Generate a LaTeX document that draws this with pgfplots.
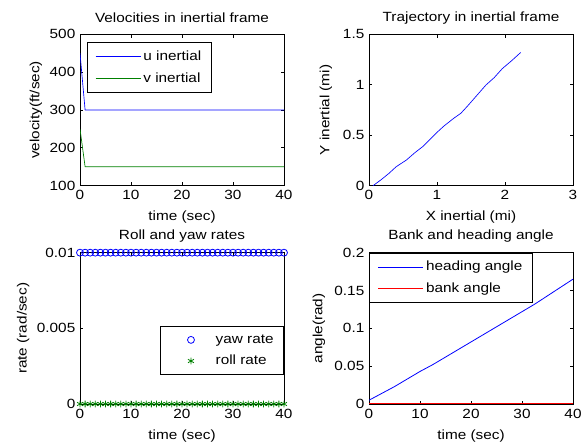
\documentclass[border=0pt]{standalone}
\usepackage{fontspec}
\setmainfont{Liberation Sans}[FakeStretch=1.15]
\usepackage{pgfplots}
\pgfplotsset{compat=1.18}

\definecolor{mblue}{rgb}{0,0,1}
\definecolor{mgreen}{rgb}{0,0.5,0}
\definecolor{mred}{rgb}{1,0,0}

\pgfplotsset{
  mlab/.style={
    scale only axis, width=153pt, height=113.5pt,
    anchor=south west,
    axis line style={black, line width=0.6pt},
    tick align=inside, major tick length=2.5pt,
    every tick/.style={black, line width=0.6pt},
    font=\fontsize{10}{12}\selectfont,
    ticklabel style={font=\fontsize{10}{12}\selectfont},
    /pgf/number format/assume math mode=true,
    scaled y ticks=false, scaled x ticks=false,
    every axis title shift=0pt,
    title style={at={(axis description cs:0.5,1.11)}, anchor=center, inner sep=0pt, yshift=0pt},
    xlabel style={at={(axis description cs:0.5,-0.21)}, anchor=center, inner sep=0pt},
    legend cell align=left,
    legend style={draw=black, line width=0.6pt, font=\fontsize{10}{12}\selectfont,
      inner xsep=6pt, inner ysep=4.5pt, row sep=4.5pt,
      nodes={inner sep=1.5pt}},
    legend image code/.code={\draw[mark repeat=2, mark phase=2, #1]
      plot coordinates {(0pt,0pt) (17pt,0pt) (34pt,0pt)};},
    every axis plot/.append style={line width=0.5pt},
  },
  markimg/.style={legend image code/.code={\path[draw=none, fill=none] (0pt,-2pt) rectangle (34pt,2pt);
      \draw[#1] plot coordinates {(17pt,0pt)};}},
}

\begin{document}
\begin{tikzpicture}
\path[use as bounding box] (0,0) rectangle (438.75pt,332.25pt);

% velocities
\begin{axis}[mlab, at={(60pt,193pt)},
  title={Velocities in inertial frame},
  xlabel={time (sec)}, ylabel={velocity(ft/sec)},
  ylabel style={at={(axis description cs:-0.216,0.5)}, anchor=center, inner sep=0pt},
  xmin=0, xmax=40, ymin=100, ymax=500,
  xtick={0,10,20,30,40}, ytick={100,200,300,400,500},
  legend style={at={(0.034,0.947)}, anchor=north west}]
\addplot[mblue] coordinates {(0,450) (1,300) (40,300)};
\addplot[mgreen] coordinates {(0,250) (1,150) (40,150)};
\legend{u inertial, v inertial}
\end{axis}

% trajectory
\begin{axis}[mlab, at={(276.75pt,193pt)},
  title={Trajectory in inertial frame},
  xlabel={X inertial (mi)}, ylabel={Y inertial (mi)},
  ylabel style={at={(axis description cs:-0.211,0.5)}, anchor=center, inner sep=0pt},
  xmin=0, xmax=3, ymin=0, ymax=1.5,
  xtick={0,1,2,3}, ytick={0,0.5,1,1.5}, yticklabels={0,0.5,1,1.5}]
\addplot[mblue] coordinates {
 (0.06,0) (0.18,0.06) (0.29,0.12) (0.40,0.188) (0.55,0.254) (0.68,0.33)
 (0.79,0.387) (0.90,0.46) (0.985,0.519) (1.10,0.59) (1.25,0.67) (1.35,0.717)
 (1.45,0.79) (1.58,0.89) (1.72,0.998) (1.84,1.07) (1.96,1.16) (2.10,1.24) (2.23,1.32)};
\end{axis}

% rates
\begin{axis}[mlab, at={(60pt,29.25pt)},
  title={Roll and yaw rates},
  xlabel={time (sec)}, ylabel={rate (rad/sec)},
  ylabel style={at={(axis description cs:-0.279,0.5)}, anchor=center, inner sep=0pt},
  xmin=0, xmax=40, ymin=0, ymax=0.01, clip=false,
  xtick={0,10,20,30,40}, ytick={0,0.005,0.01}, yticklabels={0,0.005,0.01},
  legend style={at={(1,0.19)}, anchor=south east}]
\addplot[mblue, only marks, mark=o, mark size=2.6pt, line width=0.6pt, markimg] coordinates {
 (0,0.01) (1,0.01) (2,0.01) (3,0.01) (4,0.01) (5,0.01) (6,0.01) (7,0.01) (8,0.01) (9,0.01)
 (10,0.01) (11,0.01) (12,0.01) (13,0.01) (14,0.01) (15,0.01) (16,0.01) (17,0.01) (18,0.01) (19,0.01)
 (20,0.01) (21,0.01) (22,0.01) (23,0.01) (24,0.01) (25,0.01) (26,0.01) (27,0.01) (28,0.01) (29,0.01)
 (30,0.01) (31,0.01) (32,0.01) (33,0.01) (34,0.01) (35,0.01) (36,0.01) (37,0.01) (38,0.01) (39,0.01)
 (40,0.01)};
\addplot[mgreen, only marks, mark=asterisk, mark size=2.6pt, line width=0.6pt, markimg] coordinates {
 (0,0) (1,0) (2,0) (3,0) (4,0) (5,0) (6,0) (7,0) (8,0) (9,0)
 (10,0) (11,0) (12,0) (13,0) (14,0) (15,0) (16,0) (17,0) (18,0) (19,0)
 (20,0) (21,0) (22,0) (23,0) (24,0) (25,0) (26,0) (27,0) (28,0) (29,0)
 (30,0) (31,0) (32,0) (33,0) (34,0) (35,0) (36,0) (37,0) (38,0) (39,0)
 (40,0)};
\legend{yaw rate, roll rate}
\end{axis}

% angles
\begin{axis}[mlab, at={(276.75pt,29.25pt)},
  title={Bank and heading angle},
  xlabel={time (sec)}, ylabel={angle(rad)},
  ylabel style={at={(axis description cs:-0.245,0.5)}, anchor=center, inner sep=0pt},
  xmin=0, xmax=40, ymin=0, ymax=0.2,
  xtick={0,10,20,30,40}, ytick={0,0.05,0.1,0.15,0.2},
  yticklabels={0,0.05,0.1,0.15,0.2},
  legend style={at={(0.001,0.999)}, anchor=north west}]
\addplot[mblue, line width=0.6pt] coordinates {
 (0,0.005) (2.5,0.014) (5,0.023) (7.5,0.033) (10,0.043) (12.5,0.052) (15,0.062)
 (17.5,0.072) (20,0.082) (22.5,0.092) (25,0.102) (27.5,0.112) (30,0.122)
 (32.5,0.132) (35,0.143) (37.5,0.154) (40,0.165)};
\addplot[mred, line width=0.8pt] coordinates {(0,0.0003) (40,0.0003)};
\legend{heading angle, bank angle}
\end{axis}
\end{tikzpicture}
\end{document}
